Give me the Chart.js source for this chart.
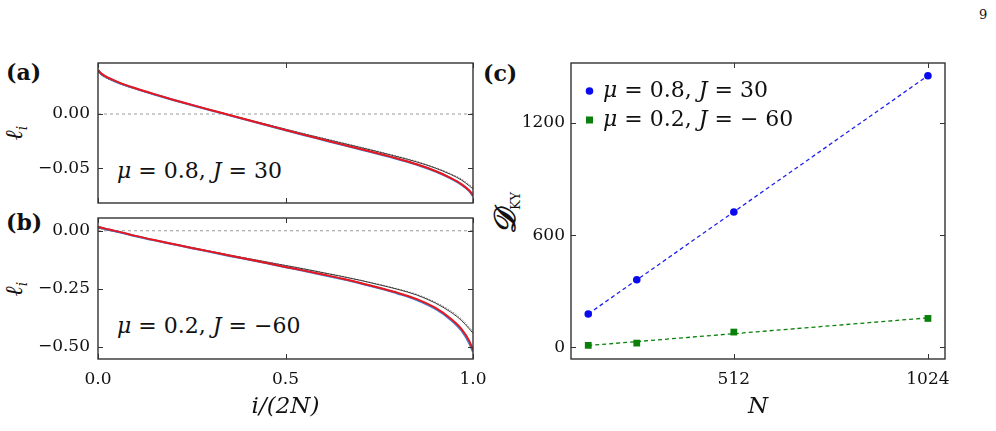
<!DOCTYPE html>
<html>
<head>
<meta charset="utf-8">
<script src="https://cdn.jsdelivr.net/npm/chart.js"></script>
<style>
body{margin:0;background:#fff;width:996px;height:431px;position:relative;overflow:hidden;font-family:"DejaVu Serif",serif;color:#111}
canvas{position:absolute}
.t{position:absolute;white-space:nowrap;line-height:1}
.rot{text-align:center;transform:rotate(-90deg)}
</style>
</head>
<body>
<div class="t" style="left:979px;top:8px;font-size:13px">9</div>
<div class="t" style="left:6px;top:61px;font-size:22px;font-weight:bold">(a)</div>
<div class="t" style="left:6px;top:211px;font-size:22px;font-weight:bold">(b)</div>
<div class="t" style="left:483px;top:62px;font-size:22px;font-weight:bold">(c)</div>
<div class="t" style="left:117px;top:160px;font-size:22px"><i>μ</i> = 0.8, <i>J</i> = 30</div>
<div class="t" style="left:117px;top:315px;font-size:22px"><i>μ</i> = 0.2, <i>J</i> = −60</div>
<div class="t rot" style="left:-13px;top:118px;width:60px;height:30px"><i style="font-size:24px">ℓ</i><i style="font-size:14px;position:relative;top:5px">i</i></div>
<div class="t rot" style="left:-13px;top:274px;width:60px;height:30px"><i style="font-size:24px">ℓ</i><i style="font-size:14px;position:relative;top:5px">i</i></div>
<div class="t rot" style="left:455px;top:198px;width:100px;height:30px"><b style="font-size:30px;font-style:italic">𝒟</b><span style="font-size:13px;position:relative;top:5px">KY</span></div>

<canvas id="ca" style="left:0;top:50px" width="490" height="160"></canvas>
<canvas id="cb" style="left:0;top:205px" width="490" height="226"></canvas>
<canvas id="cc" style="left:490px;top:50px" width="506" height="381"></canvas>

<script>
// posiciones i/(2N) donde leo las curvas
const xs = [0, 0.01, 0.03, 0.06, 0.1, 0.15, 0.2, 0.25, 0.3, 0.35, 0.4, 0.45, 0.5, 0.55, 0.6, 0.65, 0.7, 0.75, 0.8, 0.85, 0.9, 0.94, 0.97, 0.99, 1.0]

// panel (a): mu=0.8, J=30
const rojoA = [0.0405, 0.0370, 0.0330, 0.0285, 0.0237, 0.0183, 0.0132, 0.0084, 0.0037, -0.0009, -0.0055, -0.0101, -0.0147, -0.0192, -0.0236, -0.0280, -0.0323, -0.0367, -0.0413, -0.0463, -0.0525, -0.0588, -0.0648, -0.0705, -0.0750]
const azulA = [0.0402, 0.0367, 0.0327, 0.0282, 0.0235, 0.0181, 0.0130, 0.0082, 0.0035, -0.0011, -0.0057, -0.0103, -0.0149, -0.0194, -0.0238, -0.0282, -0.0326, -0.0370, -0.0416, -0.0466, -0.0529, -0.0592, -0.0653, -0.0710, -0.0756]
const negroA = [0.0390, 0.0358, 0.0320, 0.0277, 0.0231, 0.0179, 0.0130, 0.0083, 0.0037, -0.0008, -0.0053, -0.0097, -0.0141, -0.0184, -0.0226, -0.0268, -0.0309, -0.0351, -0.0395, -0.0442, -0.0499, -0.0556, -0.0610, -0.0662, -0.0690]
const grisA = [0.0385, 0.0354, 0.0317, 0.0275, 0.0230, 0.0178, 0.0130, 0.0083, 0.0037, -0.0007, -0.0052, -0.0095, -0.0138, -0.0181, -0.0222, -0.0263, -0.0304, -0.0346, -0.0390, -0.0437, -0.0494, -0.0549, -0.0600, -0.0650, -0.0675]

// panel (b): mu=0.2, J=-60
const rojoB = [0.017, 0.013, 0.005, -0.006, -0.022, -0.040, -0.057, -0.074, -0.090, -0.107, -0.123, -0.139, -0.156, -0.172, -0.189, -0.206, -0.225, -0.246, -0.268, -0.295, -0.333, -0.378, -0.425, -0.475, -0.515]
const azulB = [0.016, 0.012, 0.004, -0.007, -0.023, -0.041, -0.058, -0.075, -0.091, -0.108, -0.124, -0.140, -0.157, -0.173, -0.190, -0.208, -0.227, -0.248, -0.271, -0.298, -0.337, -0.383, -0.432, -0.485, -0.522]
const negroB = [0.012, 0.009, 0.002, -0.008, -0.023, -0.041, -0.057, -0.073, -0.089, -0.105, -0.120, -0.135, -0.150, -0.165, -0.181, -0.197, -0.214, -0.233, -0.253, -0.277, -0.312, -0.350, -0.388, -0.423, -0.442]
const grisB = [0.010, 0.007, 0.001, -0.008, -0.023, -0.040, -0.056, -0.072, -0.088, -0.104, -0.119, -0.134, -0.149, -0.164, -0.180, -0.196, -0.213, -0.231, -0.251, -0.274, -0.308, -0.344, -0.381, -0.416, -0.433]

const cero = [0, 0] // linea punteada en 0
const bordesX = [0, 1]

// panel (c): D_KY contra N
const tamN = [128, 256, 512, 1024]
const dkyAzul = [179, 362, 724, 1453]
const dkyVerde = [11, 23, 82, 155]
const ajusteN = [128, 1024]
const ajusteAzul = [179, 1453]
const ajusteVerde = [10, 158]
const etiquetas = [['μ', ' = 0.8, ', 'J', ' = 30'], ['μ', ' = 0.2, ', 'J', ' = \u2212 60']]

// ticks
const ticksX = [0, 0.5, 1]
const ticksYa = [-0.05, 0]
const ticksYb = [-0.5, -0.25, 0]
const ticksXc = [512, 1024]
const ticksYc = [0, 600, 1200]

const fuente = '"DejaVu Serif", serif'
const menos = v => (v < 0 ? '\u2212' : '')

// marco con ticks hacia dentro, como matplotlib
const marco = {
  id: 'marco',
  afterDatasetsDraw(chart) {
    const { ctx, chartArea: a, scales: { x, y } } = chart
    ctx.save()
    ctx.strokeStyle = '#333'
    ctx.lineWidth = 1.4
    ctx.strokeRect(a.left, a.top, a.right - a.left, a.bottom - a.top)
    ctx.lineWidth = 1
    ctx.beginPath()
    x.ticks.forEach(t => {
      const px = Math.round(x.getPixelForValue(t.value)) + 0.5
      ctx.moveTo(px, a.bottom); ctx.lineTo(px, a.bottom - 5)
      ctx.moveTo(px, a.top); ctx.lineTo(px, a.top + 5)
    })
    y.ticks.forEach(t => {
      const py = Math.round(y.getPixelForValue(t.value)) + 0.5
      ctx.moveTo(a.left, py); ctx.lineTo(a.left + 5, py)
      ctx.moveTo(a.right, py); ctx.lineTo(a.right - 5, py)
    })
    ctx.stroke()
    ctx.restore()
  }
}

// leyenda dentro del area del grafico (c)
const leyenda = {
  id: 'leyenda',
  afterDraw(chart) {
    const { ctx, chartArea: a } = chart
    ctx.save()
    etiquetas.forEach((partes, k) => {
      const ds = chart.data.datasets[k]
      const y = a.top + 28 + k * 29
      ctx.fillStyle = ds.backgroundColor
      if (ds.pointStyle === 'rect') {
        ctx.fillRect(a.left + 15, y - 3.5, 7, 7)
      } else {
        ctx.beginPath(); ctx.arc(a.left + 18.5, y, 3.8, 0, Math.PI * 2); ctx.fill()
      }
      ctx.fillStyle = '#111'
      ctx.textBaseline = 'middle'
      let px = a.left + 32
      partes.forEach((p, j) => {
        ctx.font = (j % 2 === 0 ? 'italic ' : '') + '22px ' + fuente
        ctx.fillText(p, px, y)
        px += ctx.measureText(p).width
      })
    })
    ctx.restore()
  }
}

function puntos(xv, yv) { return xv.map((v, i) => ({ x: v, y: yv[i] })) }

function linea(datos, color, ancho, dash) {
  return { data: datos, borderColor: color, borderWidth: ancho, borderDash: dash || [], pointRadius: 0, cubicInterpolationMode: 'monotone', fill: false }
}

// quitar el relleno que chart.js deja para las etiquetas de los extremos
const sinRelleno = s => { s.paddingTop = 0; s.paddingBottom = 0; s.paddingLeft = 0; s.paddingRight = 0 }

function panelLineas(id, rojo, azul, negro, gris, min, max, ticksY, conEtiquetasX) {
  new Chart(document.getElementById(id), {
    type: 'line',
    data: {
      datasets: [
        linea(puntos(xs, rojo), '#e8161e', 2),
        linea(puntos(xs, azul), '#3d86d8', 2.2),
        linea(puntos(xs, negro), '#222', 0.9),
        linea(puntos(xs, gris), '#777', 0.9, [1.5, 1.5]),
        linea(puntos(bordesX, cero), '#999', 1, [3, 3])
      ]
    },
    options: {
      responsive: false,
      animation: false,
      layout: { padding: { top: 13, right: 17, left: 0, bottom: 0 } },
      plugins: { legend: { display: false }, tooltip: { enabled: false } },
      scales: {
        x: {
          type: 'linear', min: 0, max: 1,
          afterBuildTicks: s => { s.ticks = ticksX.map(v => ({ value: v })) },
          afterFit: s => { s.height = conEtiquetasX ? 72 : 7; sinRelleno(s) },
          grid: { display: false, drawTicks: false },
          border: { display: false },
          ticks: { display: conEtiquetasX, padding: 10, color: '#111', font: { family: fuente, size: 17 }, callback: v => v.toFixed(1) },
          title: { display: conEtiquetasX, text: 'i/(2N)', color: '#111', padding: { bottom: 10 }, font: { family: fuente, size: 23, style: 'italic' } }
        },
        y: {
          type: 'linear', min: min, max: max,
          afterBuildTicks: s => { s.ticks = ticksY.map(v => ({ value: v })) },
          afterFit: s => { s.width = 98; sinRelleno(s) },
          grid: { display: false, drawTicks: false },
          border: { display: false },
          ticks: { padding: 8, color: '#111', font: { family: fuente, size: 17 }, callback: v => menos(v) + Math.abs(v).toFixed(2) }
        }
      }
    },
    plugins: [marco]
  })
}

panelLineas('ca', rojoA, azulA, negroA, grisA, -0.082, 0.047, ticksYa, false)
panelLineas('cb', rojoB, azulB, negroB, grisB, -0.553, 0.055, ticksYb, true)

new Chart(document.getElementById('cc'), {
  type: 'scatter',
  data: {
    datasets: [
      { data: puntos(tamN, dkyAzul), backgroundColor: '#0a0af0', borderWidth: 0, pointRadius: 3.8, pointStyle: 'circle' },
      { data: puntos(tamN, dkyVerde), backgroundColor: '#0a800a', borderWidth: 0, pointRadius: 4.8, pointStyle: 'rect' },
      { data: puntos(ajusteN, ajusteAzul), showLine: true, borderColor: '#2020f0', borderWidth: 1.3, borderDash: [4, 3], pointRadius: 0 },
      { data: puntos(ajusteN, ajusteVerde), showLine: true, borderColor: '#0a800a', borderWidth: 1.3, borderDash: [4, 3], pointRadius: 0 }
    ]
  },
  options: {
    responsive: false,
    animation: false,
    layout: { padding: { top: 13, right: 51, left: 0, bottom: 0 } },
    plugins: { legend: { display: false }, tooltip: { enabled: false } },
    scales: {
      x: {
        type: 'linear', min: 82.5, max: 1069,
        afterBuildTicks: s => { s.ticks = ticksXc.map(v => ({ value: v })) },
        afterFit: s => { s.height = 72; sinRelleno(s) },
        grid: { display: false, drawTicks: false },
        border: { display: false },
        ticks: { padding: 10, color: '#111', font: { family: fuente, size: 17 }, callback: v => String(v) },
        title: { display: true, text: 'N', color: '#111', padding: { bottom: 10 }, font: { family: fuente, size: 23, style: 'italic' } }
      },
      y: {
        type: 'linear', min: -62, max: 1521,
        afterBuildTicks: s => { s.ticks = ticksYc.map(v => ({ value: v })) },
        afterFit: s => { s.width = 81; sinRelleno(s) },
        grid: { display: false, drawTicks: false },
        border: { display: false },
        ticks: { padding: 6, color: '#111', font: { family: fuente, size: 17 }, callback: v => String(v) }
      }
    }
  },
  plugins: [marco, leyenda]
})
</script>
</body>
</html>
